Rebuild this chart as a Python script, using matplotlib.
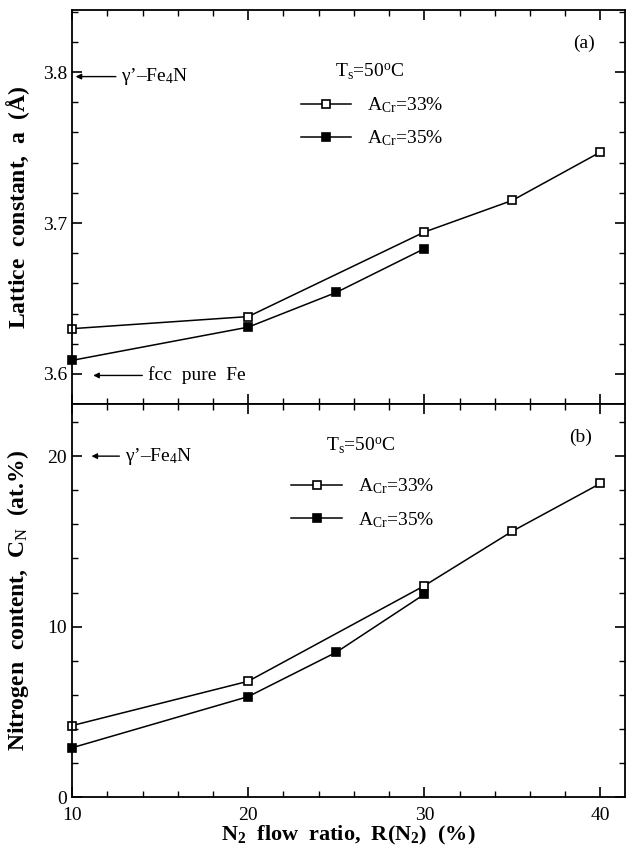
import matplotlib
matplotlib.use('Agg')
import matplotlib.pyplot as plt
from matplotlib.ticker import MultipleLocator, FormatStrFormatter

plt.rcParams['font.family'] = ['Liberation Serif', 'DejaVu Serif']
plt.rcParams['mathtext.fontset'] = 'custom'
plt.rcParams['mathtext.rm'] = 'Liberation Serif'
plt.rcParams['mathtext.it'] = 'Liberation Serif:italic'
plt.rcParams['mathtext.bf'] = 'Liberation Serif:bold'

# flow ratio R(N2) (%)
r33 = [10, 20, 30, 35, 40]
r35 = [10, 20, 25, 30]

# lattice constant (A)
a33 = [3.630, 3.638, 3.694, 3.715, 3.747]
a35 = [3.609, 3.631, 3.654, 3.683]

# nitrogen content (at.%)
cn33 = [4.2, 6.8, 12.4, 15.6, 18.4]
cn35 = [2.9, 5.9, 8.5, 11.9]

lab33 = r'A$_{\mathrm{Cr}}$=33%'
lab35 = r'A$_{\mathrm{Cr}}$=35%'

fig = plt.figure(figsize=(6.27, 8.49), dpi=100)
ax1 = fig.add_axes([0.115, 0.524, 0.882, 0.464])
ax2 = fig.add_axes([0.115, 0.061, 0.882, 0.463], sharex=ax1)

def style(ax):
    ax.tick_params(which='both', direction='in', top=True, right=True, labelsize=14)
    ax.tick_params(which='major', length=7, width=1.2)
    ax.tick_params(which='minor', length=4, width=1.0)
    for s in ax.spines.values():
        s.set_linewidth(1.3)

def plot_series(ax, y33, y35):
    ax.plot(r33, y33, 'k-', marker='s', mfc='white', mec='black', ms=5.5, mew=1.2, lw=1.1,
            label=lab33, clip_on=False)
    ax.plot(r35, y35, 'k-', marker='s', mfc='black', mec='black', ms=5.5, mew=1.2, lw=1.1,
            label=lab35, clip_on=False)

arrow = dict(arrowstyle='-|>', color='black', lw=1.0, mutation_scale=8, shrinkB=0)

# panel (a)
plot_series(ax1, a33, a35)
ax1.set_xlim(10, 41.4)
ax1.set_ylim(3.58, 3.841)
ax1.yaxis.set_major_locator(MultipleLocator(0.1))
ax1.yaxis.set_minor_locator(MultipleLocator(0.02))
ax1.yaxis.set_major_formatter(FormatStrFormatter('%.1f'))
ax1.xaxis.set_major_locator(MultipleLocator(10))
ax1.xaxis.set_minor_locator(MultipleLocator(2))
plt.setp(ax1.get_xticklabels(), visible=False)
style(ax1)
ax1.set_ylabel(r'Lattice  constant,  a  ($\mathbf{\AA}$)', fontsize=17, fontweight='bold', labelpad=8)
ax1.text(0.945, 0.905, '(a)', transform=ax1.transAxes, fontsize=14, ha='right')
ax1.text(0.475, 0.83, r'T$_{\mathrm{s}}$=50$^{\mathrm{o}}$C', transform=ax1.transAxes, fontsize=14)
ax1.legend(loc='upper left', bbox_to_anchor=(0.382, 0.828), frameon=False, fontsize=14,
           handlelength=2.6, handletextpad=0.8, labelspacing=0.7)
ax1.annotate("γ’–Fe$_4$N", xy=(10.2, 3.797), xytext=(12.8, 3.797), fontsize=14, va='center',
             arrowprops=arrow)
ax1.annotate('fcc  pure  Fe', xy=(11.2, 3.599), xytext=(14.3, 3.599), fontsize=14, va='center',
             arrowprops=arrow)

# panel (b)
plot_series(ax2, cn33, cn35)
ax2.set_ylim(0, 23.05)
ax2.yaxis.set_major_locator(MultipleLocator(10))
ax2.yaxis.set_minor_locator(MultipleLocator(2))
style(ax2)
ax2.tick_params(axis='x', which='major', pad=7)
ax2.set_ylabel(r'Nitrogen  content,  C$_{\mathrm{N}}$  (at.%)', fontsize=17, fontweight='bold', labelpad=12)
ax2.set_xlabel(r'N$_\mathbf{2}$  flow  ratio,  R(N$_\mathbf{2}$)  (%)', fontsize=16, fontweight='bold', labelpad=0)
ax2.text(0.94, 0.905, '(b)', transform=ax2.transAxes, fontsize=14, ha='right')
ax2.text(0.46, 0.88, r'T$_{\mathrm{s}}$=50$^{\mathrm{o}}$C', transform=ax2.transAxes, fontsize=14)
ax2.legend(loc='upper left', bbox_to_anchor=(0.365, 0.86), frameon=False, fontsize=14,
           handlelength=2.6, handletextpad=0.8, labelspacing=0.7)
ax2.annotate("γ’–Fe$_4$N", xy=(11.1, 20), xytext=(13.0, 20), fontsize=14, va='center',
             arrowprops=arrow)

fig.savefig('out.png', dpi=100)
